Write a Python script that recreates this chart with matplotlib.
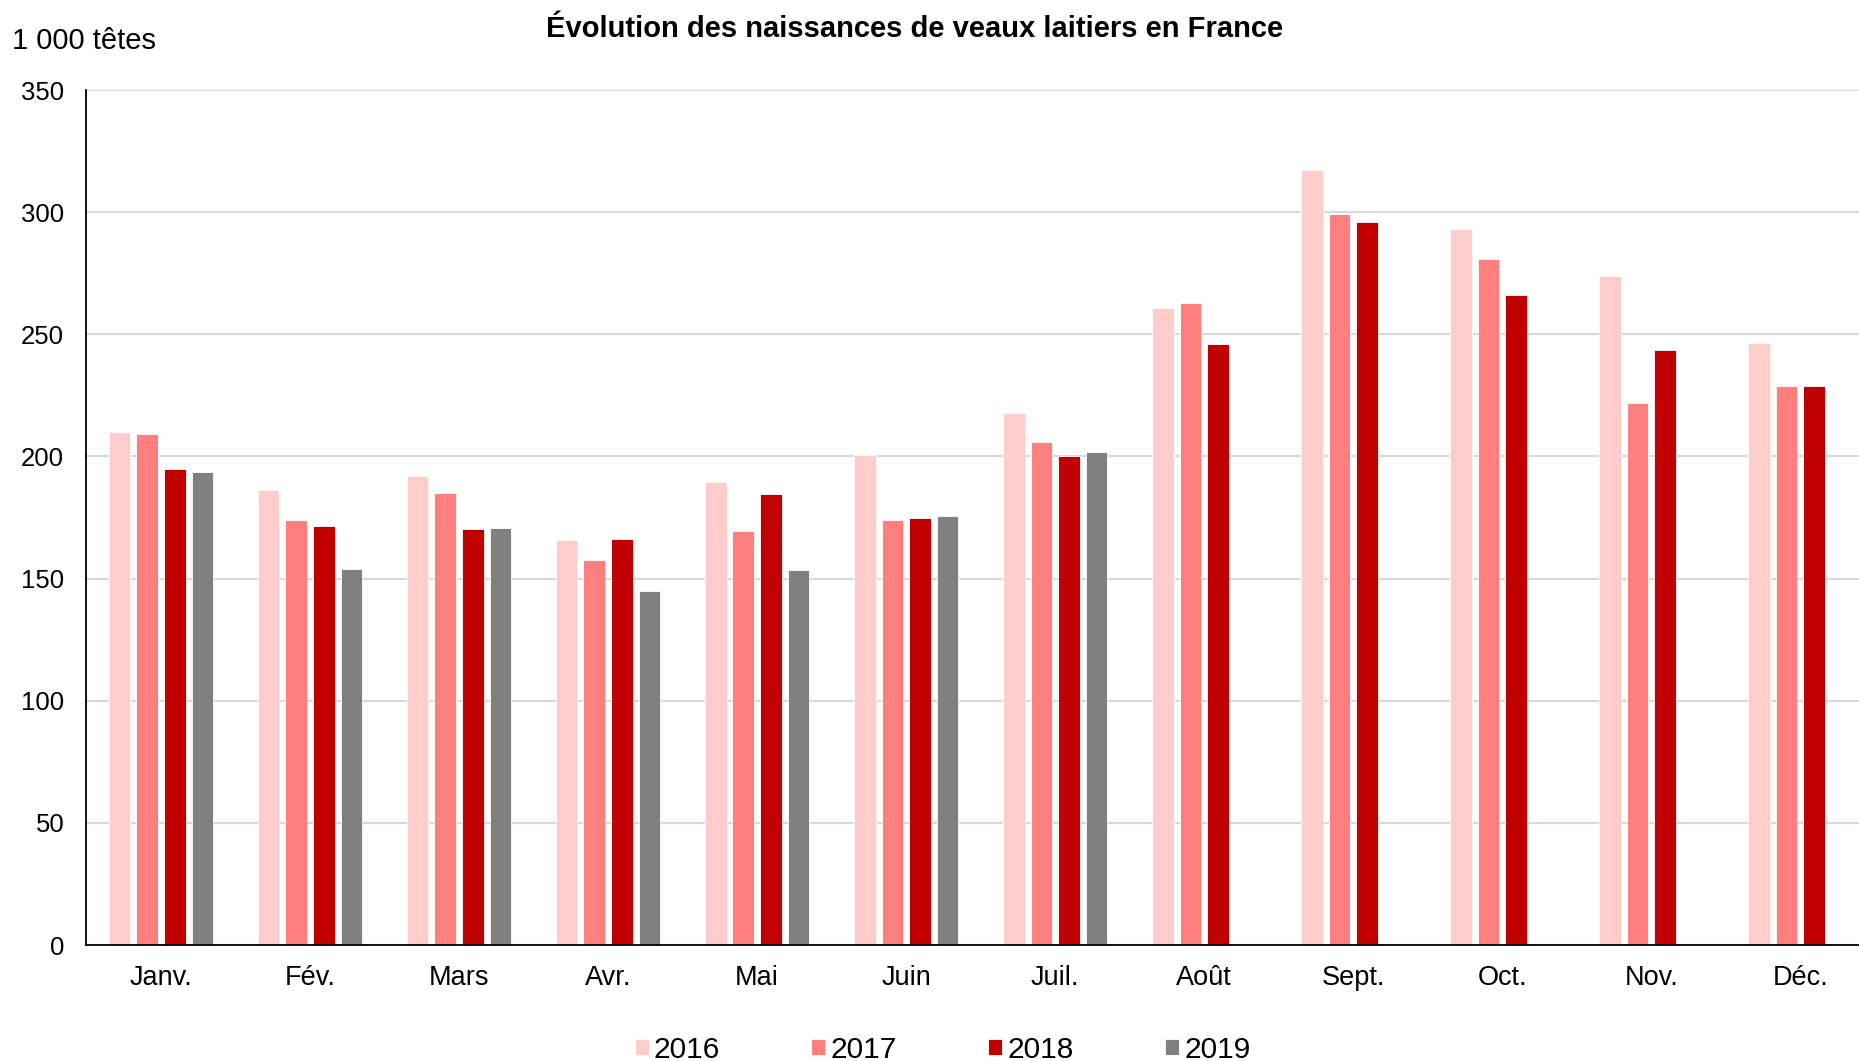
import numpy as np
import matplotlib
matplotlib.use("Agg")
import matplotlib.pyplot as plt

plt.rcParams["font.family"] = ["Liberation Sans", "DejaVu Sans"]

MONTHS = ["Janv.", "Fév.", "Mars", "Avr.", "Mai", "Juin", "Juil.",
          "Août", "Sept.", "Oct.", "Nov.", "Déc."]
YEARS = ["2016", "2017", "2018", "2019"]
COLORS = ["#ffcccc", "#ff7f7f", "#c00000", "#808080"]

# milliers de têtes
v2016 = [210.0, 186.1, 192.0, 166.0, 189.7, 200.6, 217.6, 260.9, 317.1, 293.0, 273.8, 246.3]
v2017 = [209.1, 173.8, 185.0, 157.5, 169.6, 174.2, 205.9, 263.0, 299.2, 280.7, 221.9, 229.0]
v2018 = [194.7, 171.5, 170.3, 166.3, 184.5, 175.0, 200.2, 245.9, 296.0, 266.3, 243.4, 228.7]
v2019 = [193.5, 153.8, 170.6, 144.8, 153.5, 175.7, 201.7]  # jan-juil seulement

SERIES = [v2016, v2017, v2018, v2019]


def main():
    fig = plt.figure(figsize=(18.59, 10.61), dpi=100)
    # the plot area runs a little past the right edge, as in the original
    ax = fig.add_axes([0.0465, 0.1093, 0.962, 0.8058])

    slot = 0.185
    width = 0.145
    for i, (vals, year, col) in enumerate(zip(SERIES, YEARS, COLORS)):
        x = np.arange(len(vals)) + (i - 1.5) * slot
        ax.bar(x, vals, width=width, color=col, label=year,
               edgecolor="white", linewidth=0.6, zorder=3)

    ax.set_xlim(-0.5, 11.5)
    ax.set_ylim(0, 350)
    ax.set_yticks(np.arange(0, 351, 50))
    ax.set_xticks(np.arange(12))
    ax.set_xticklabels(MONTHS)
    ax.tick_params(axis="both", length=0, labelsize=18.5)
    ax.tick_params(axis="x", pad=14.5, labelsize=19.5)
    ax.tick_params(axis="y", pad=16)

    ax.grid(axis="y", color="#d9d9d9", linewidth=1.5, zorder=0)
    ax.set_axisbelow(True)
    for s in ("top", "right"):
        ax.spines[s].set_visible(False)
    for s in ("left", "bottom"):
        ax.spines[s].set_color("black")
        ax.spines[s].set_linewidth(1.3)
        ax.spines[s].set_zorder(4)

    fig.text(0.4917, 0.9725, "Évolution des naissances de veaux laitiers en France",
             ha="center", va="center", fontsize=21, fontweight="bold")
    fig.text(12 / 1859, 1 - 41 / 1061, "1 000 têtes", ha="left", va="center",
             fontsize=21)

    fig.legend(loc="center", bbox_to_anchor=(0.507, 0.0105), ncol=4,
               frameon=False, fontsize=21.5, handlelength=0.47, handleheight=0.47,
               handletextpad=0.17, columnspacing=3.06, borderpad=0)

    fig.savefig("out.png", dpi=100)


if __name__ == "__main__":
    main()
